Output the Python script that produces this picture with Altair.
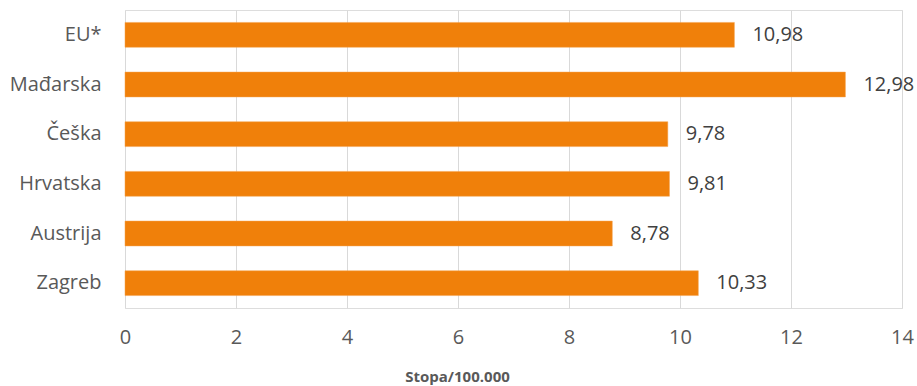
import altair as alt
import pandas as pd

categories = ["EU*", "Mađarska", "Češka", "Hrvatska", "Austrija", "Zagreb"]
values = [10.98, 12.98, 9.78, 9.81, 8.78, 10.33]
labels = ["10,98", "12,98", "9,78", "9,81", "8,78", "10,33"]
x_ticks = [0, 2, 4, 6, 8, 10, 12, 14]
x_title = "Stopa/100.000"

df = pd.DataFrame({"kat": categories, "stopa": values, "oznaka": labels})

FONT = "Open Sans"
W, H = 777, 298

y_enc = alt.Y(
    "kat:N",
    sort=categories,
    scale=alt.Scale(paddingInner=0.5, paddingOuter=0.25),
    axis=alt.Axis(
        title=None, domain=False, ticks=False, grid=False,
        labelFont=FONT, labelFontSize=20, labelColor="#595959", labelPadding=24,
    ),
)
x_enc = alt.X(
    "stopa:Q",
    scale=alt.Scale(domain=[0, 14], nice=False),
    axis=alt.Axis(
        values=x_ticks, format="d", title=x_title, domain=False, ticks=False,
        grid=True, gridColor="#d9d9d9", gridWidth=1, labelFlush=False,
        labelFont=FONT, labelFontSize=20, labelColor="#595959", labelPadding=19,
        titleFont=FONT, titleFontSize=15, titleFontWeight="bold", titleColor="#595959",
        titleX=332, titleY=68, titleAnchor="middle", titleAlign="center",
        titleBaseline="middle",
    ),
)

bars = alt.Chart(df).mark_bar(color="#F0800A", stroke="#F5A04A", strokeWidth=0.5).encode(
    x=x_enc, y=y_enc
)
text = alt.Chart(df).mark_text(
    align="left", baseline="middle", dx=18, font=FONT, fontSize=20, color="#404040"
).encode(x="stopa:Q", y=alt.Y("kat:N", sort=categories), text="oznaka:N")

chart = (
    (bars + text)
    .properties(
        width=W, height=H,
        padding={"left": 125, "top": 10, "right": 15, "bottom": 78},
        autosize=alt.AutoSizeParams(type="none"),
    )
    .configure_view(stroke=None)
    .configure(background="white")
)

chart.save("out.html", embed_options={"renderer": "svg", "actions": False})
